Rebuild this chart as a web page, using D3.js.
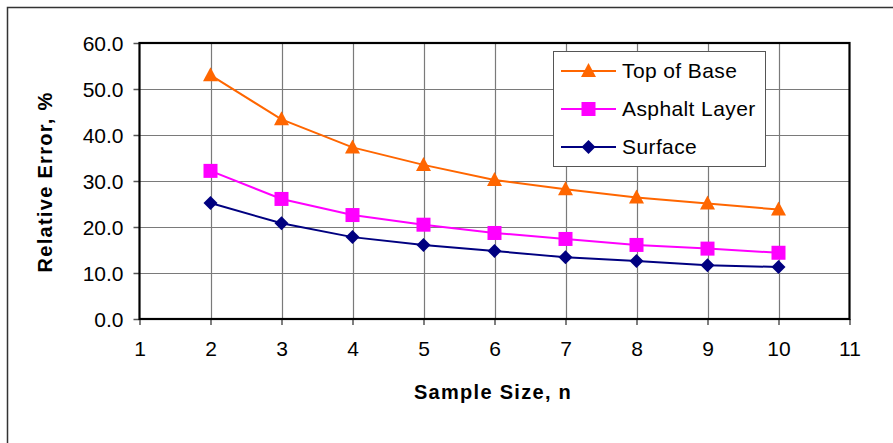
<!DOCTYPE html>
<html>
<head>
<meta charset="utf-8">
<script src="https://cdn.jsdelivr.net/npm/d3@7"></script>
<style>
  html, body { margin: 0; padding: 0; background: #fff; }
  svg { display: block; font-family: Arial, "Liberation Sans", sans-serif; }
</style>
</head>
<body>
<svg id="chart" width="893" height="443"></svg>
<script>
const sampleSizes = [2, 3, 4, 5, 6, 7, 8, 9, 10];
const topOfBase   = [53.0, 43.4, 37.3, 33.5, 30.2, 28.2, 26.4, 25.1, 23.8];
const asphaltLayer = [32.2, 26.1, 22.6, 20.5, 18.7, 17.4, 16.1, 15.3, 14.4];
const surface     = [25.2, 20.8, 17.8, 16.1, 14.8, 13.4, 12.6, 11.7, 11.3];
const xTicks = [1, 2, 3, 4, 5, 6, 7, 8, 9, 10, 11];
const yTicks = [0, 10, 20, 30, 40, 50, 60];
const seriesNames = ["Top of Base", "Asphalt Layer", "Surface"];

const svg = d3.select("#chart");
const W = 893, H = 443;
const plot = { left: 139.5, right: 849.5, top: 43, bottom: 319 };
const FONT = "Arial, 'Liberation Sans', sans-serif";

// outer border
svg.append("rect").attr("x", 7.5).attr("y", 7.5).attr("width", W).attr("height", H)
  .attr("fill", "#fff").attr("stroke", "#333").attr("stroke-width", 1.5);

const x = d3.scaleLinear().domain([1, 11]).range([plot.left, plot.right]);
const y = d3.scaleLinear().domain([0, 60]).range([plot.bottom, plot.top]);

// gridlines
svg.append("g").selectAll("line").data(yTicks.filter(d => d > 0 && d < 60)).join("line")
  .attr("x1", plot.left).attr("x2", plot.right)
  .attr("y1", d => Math.round(y(d)) + 0.5).attr("y2", d => Math.round(y(d)) + 0.5)
  .attr("stroke", "#7a7a7a").attr("stroke-width", 1.2);
svg.append("g").selectAll("line").data(xTicks.filter(d => d > 1 && d < 11)).join("line")
  .attr("y1", plot.top).attr("y2", plot.bottom)
  .attr("x1", d => Math.round(x(d)) + 0.5).attr("x2", d => Math.round(x(d)) + 0.5)
  .attr("stroke", "#7a7a7a").attr("stroke-width", 1.2);

// axes
const yAxis = d3.axisLeft(y).tickValues(yTicks).tickFormat(d3.format(".1f")).tickSize(6).tickPadding(10);
const gy = svg.append("g").attr("transform", `translate(${plot.left},0)`).call(yAxis);
gy.select(".domain").remove();
gy.selectAll(".tick line").attr("stroke", "#555").attr("stroke-width", 1.5);
gy.selectAll(".tick text").attr("font-size", 21).attr("font-family", FONT).attr("fill", "#000")
  .attr("dy", "0.36em");

const xAxis = d3.axisBottom(x).tickValues(xTicks).tickFormat(d3.format("d")).tickSize(6).tickPadding(16);
const gx = svg.append("g").attr("transform", `translate(0,${plot.bottom})`).call(xAxis);
gx.select(".domain").remove();
gx.selectAll(".tick line").attr("stroke", "#555").attr("stroke-width", 1.5);
gx.selectAll(".tick text").attr("font-size", 21).attr("font-family", FONT).attr("fill", "#000");

// plot border
svg.append("rect").attr("x", plot.left).attr("y", plot.top)
  .attr("width", plot.right - plot.left).attr("height", plot.bottom - plot.top)
  .attr("fill", "none").attr("stroke", "#000").attr("stroke-width", 2.2);

// series
const series = [
  { name: seriesNames[0], values: topOfBase, color: "#FF6600", shape: "triangle" },
  { name: seriesNames[1], values: asphaltLayer, color: "#FF00FF", shape: "square" },
  { name: seriesNames[2], values: surface, color: "#000080", shape: "diamond" }
];

function marker(g, shape, color) {
  if (shape === "triangle") {
    g.append("path").attr("d", "M0,-8 L7.5,6 L-7.5,6 Z").attr("fill", color);
  } else if (shape === "square") {
    g.append("rect").attr("x", -7).attr("y", -7).attr("width", 14).attr("height", 14).attr("fill", color);
  } else {
    g.append("path").attr("d", "M0,-7 L7,0 L0,7 L-7,0 Z").attr("fill", color);
  }
}

const line = d3.line().x((d, i) => x(sampleSizes[i])).y(d => y(d));
series.forEach(s => {
  svg.append("path").datum(s.values).attr("d", line)
    .attr("fill", "none").attr("stroke", s.color).attr("stroke-width", 2);
  s.values.forEach((v, i) => {
    const g = svg.append("g").attr("transform", `translate(${x(sampleSizes[i])},${y(v)})`);
    marker(g, s.shape, s.color);
  });
});

// legend
const lg = svg.append("g");
lg.append("rect").attr("x", 553.5).attr("y", 51.5).attr("width", 212).attr("height", 115)
  .attr("fill", "#fff").attr("stroke", "#555").attr("stroke-width", 1);
const rowsY = [71, 109, 147];
series.forEach((s, i) => {
  const yy = rowsY[i];
  lg.append("line").attr("x1", 561).attr("x2", 616).attr("y1", yy).attr("y2", yy)
    .attr("stroke", s.color).attr("stroke-width", 2);
  const g = lg.append("g").attr("transform", `translate(588.5,${yy})`);
  marker(g, s.shape, s.color);
  lg.append("text").attr("x", 622).attr("y", yy + 7).attr("font-size", 21)
    .attr("letter-spacing", 0.4).attr("fill", "#000").text(s.name);
});

// axis titles
svg.append("text").attr("x", 493).attr("y", 399).attr("text-anchor", "middle")
  .attr("font-size", 20).attr("font-weight", "bold").attr("letter-spacing", 1.3).text("Sample Size, n");
svg.append("text").attr("transform", "translate(52,182) rotate(-90)").attr("text-anchor", "middle")
  .attr("font-size", 20).attr("font-weight", "bold").attr("letter-spacing", 1.3).text("Relative Error, %");
</script>
</body>
</html>
